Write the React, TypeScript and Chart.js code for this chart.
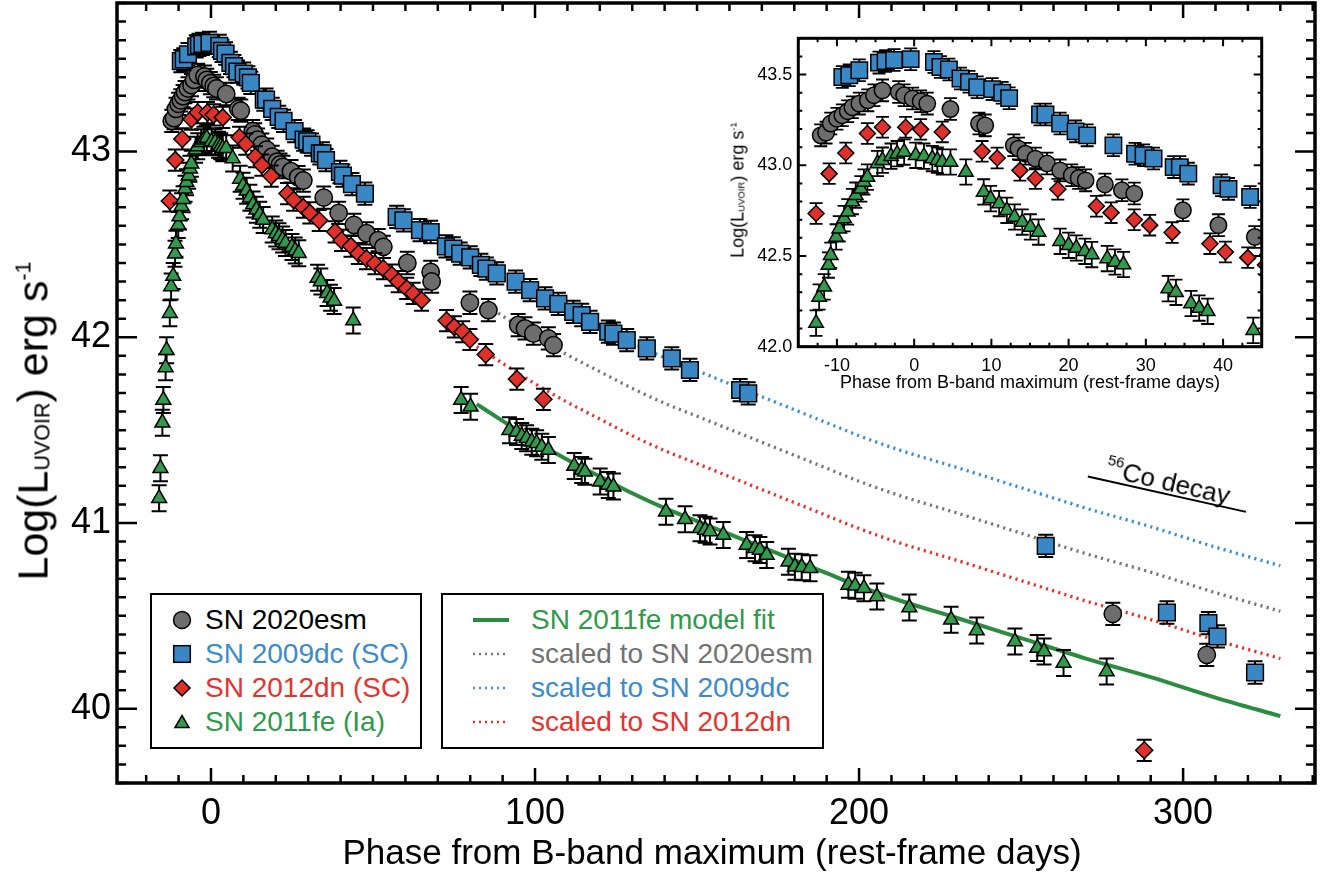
import React, { useEffect, useRef } from 'react';
import { Chart, registerables } from 'chart.js';

Chart.register(...registerables);

const FONT = '"Liberation Sans", Arial, Helvetica, sans-serif';
Chart.defaults.font.family = FONT;

// ---------------- data ----------------
// SN 2020esm
const esmX = [-12.1, -11.4, -10.8, -10.0, -9.3, -8.6, -8.0, -7.1, -6.0, -5.2, -4.1, -2.0, -1.3, -0.2, 0.84, 1.7, 4.7, 8.4, 9.2, 12.9, 13.5, 14.4, 15.7, 17.2, 18.9, 20.4, 21.3, 22.2, 24.7, 26.9, 28.5, 34.8, 39.4, 44.1, 48.0, 51.6, 53.2, 60.6, 67.8, 68.1, 79.9, 85.6, 94.8, 96.9, 99.5, 104.1, 105.7, 278.3, 307.3];
const esmY = [43.165, 43.18, 43.23, 43.257, 43.276, 43.298, 43.32, 43.34, 43.358, 43.386, 43.413, 43.404, 43.386, 43.368, 43.353, 43.34, 43.31, 43.23, 43.22, 43.11, 43.092, 43.064, 43.037, 43.01, 42.972, 42.945, 42.93, 42.917, 42.894, 42.862, 42.844, 42.752, 42.67, 42.605, 42.56, 42.523, 42.487, 42.40, 42.352, 42.30, 42.186, 42.146, 42.066, 42.048, 42.02, 41.994, 41.958, 40.511, 40.29];
const esmErr = 0.06;

// SN 2009dc
const dcX = [-9.3, -8.4, -7.1, -4.55, -3.7, -2.6, -0.45, 2.56, 3.4, 4.5, 6.0, 7.1, 8.16, 10.1, 11.4, 12.3, 16.3, 17.0, 18.9, 20.9, 22.4, 25.8, 28.6, 29.7, 31.0, 33.6, 34.4, 35.5, 39.8, 40.7, 43.5, 47.5, 57.3, 59.4, 64.5, 67.8, 72.5, 74.8, 76.9, 80.0, 83.3, 85.0, 88.2, 94.0, 98.5, 103.1, 107.2, 111.8, 114.4, 117.0, 122.6, 124.2, 128.3, 134.5, 142.2, 147.8, 163.3, 165.8, 257.6, 295.0, 307.8, 310.6, 322.2];
const dcY = [43.487, 43.496, 43.524, 43.566, 43.575, 43.58, 43.585, 43.569, 43.542, 43.528, 43.478, 43.46, 43.43, 43.42, 43.40, 43.37, 43.28, 43.28, 43.23, 43.187, 43.165, 43.11, 43.064, 43.055, 43.037, 42.99, 42.99, 42.954, 42.89, 42.87, 42.825, 42.774, 42.648, 42.63, 42.577, 42.567, 42.49, 42.478, 42.45, 42.43, 42.39, 42.37, 42.344, 42.30, 42.254, 42.21, 42.18, 42.137, 42.12, 42.083, 42.03, 42.02, 41.985, 41.94, 41.886, 41.824, 41.716, 41.698, 40.877, 40.518, 40.461, 40.389, 40.195];
const dcErr = 0.06;

// SN 2012dn
const dnX = [-12.7, -11.0, -8.85, -6.05, -4.1, -1.1, 0.84, 3.64, 8.8, 10.75, 13.7, 15.7, 18.6, 23.6, 25.5, 28.5, 30.5, 33.4, 38.3, 40.3, 43.2, 45.5, 48.0, 50.6, 53.2, 55.8, 57.8, 60.4, 62.4, 65.0, 72.7, 75.1, 77.7, 79.9, 84.8, 94.4, 102.6, 288.0];
const dnY = [42.734, 42.954, 43.068, 43.175, 43.21, 43.21, 43.198, 43.184, 43.077, 43.04, 42.972, 42.927, 42.868, 42.774, 42.739, 42.70, 42.67, 42.629, 42.568, 42.522, 42.491, 42.451, 42.424, 42.397, 42.37, 42.335, 42.30, 42.263, 42.236, 42.20, 42.09, 42.056, 42.03, 41.988, 41.907, 41.775, 41.666, 39.776];
const dnErr = 0.057;

// SN 2011fe
const feX = [-16.0, -15.6, -15.0, -14.7, -14.0, -13.7, -12.7, -12.3, -11.65, -11.1, -10.8, -10.1, -9.7, -9.07, -8.6, -8.0, -7.56, -6.9, -6.5, -6.05, -4.75, -4.1, -3.0, -2.2, -1.3, 0.2, 1.27, 2.35, 3.0, 3.64, 4.7, 6.7, 9.0, 9.9, 11.0, 12.0, 13.0, 14.0, 15.05, 16.1, 18.9, 20.0, 21.0, 22.1, 23.0, 25.0, 26.0, 27.1, 32.9, 33.9, 35.85, 36.9, 38.0, 43.9, 77.2, 80.1, 92.1, 94.3, 95.9, 97.4, 99.0, 100.5, 102.1, 104.1, 112.1, 114.4, 115.4, 120.1, 122.6, 124.2, 140.4, 146.3, 150.9, 152.5, 154.0, 158.1, 165.3, 167.9, 169.4, 171.5, 178.2, 180.2, 182.3, 184.9, 196.7, 198.8, 201.5, 205.5, 215.5, 228.4, 236.3, 248.1, 255.0, 257.1, 263.1, 276.4];
const feY = [41.133, 41.295, 41.54, 41.662, 41.838, 41.93, 42.13, 42.274, 42.33, 42.45, 42.504, 42.605, 42.65, 42.706, 42.743, 42.80, 42.835, 42.87, 42.908, 42.935, 43.01, 43.028, 43.05, 43.064, 43.073, 43.055, 43.05, 43.037, 43.028, 43.018, 43.018, 42.963, 42.853, 42.816, 42.789, 42.752, 42.715, 42.687, 42.66, 42.632, 42.581, 42.559, 42.544, 42.526, 42.508, 42.486, 42.467, 42.453, 42.32, 42.30, 42.238, 42.213, 42.195, 42.09, 41.662, 41.626, 41.50, 41.49, 41.469, 41.456, 41.438, 41.43, 41.41, 41.393, 41.307, 41.286, 41.276, 41.223, 41.205, 41.196, 41.061, 41.02, 40.972, 40.963, 40.954, 40.936, 40.882, 40.864, 40.855, 40.828, 40.792, 40.765, 40.762, 40.757, 40.667, 40.662, 40.649, 40.604, 40.545, 40.479, 40.421, 40.362, 40.327, 40.308, 40.246, 40.20];
const feErr = 0.07;

// model fit and scaled versions
const fitX = [82, 90, 100, 110, 120, 130, 140, 150, 160, 170, 180, 190, 200, 213, 230, 250, 270, 290, 310, 330];
const fitY = [41.64, 41.55, 41.44, 41.34, 41.25, 41.16, 41.08, 41.01, 40.94, 40.87, 40.80, 40.73, 40.66, 40.58, 40.49, 40.38, 40.27, 40.17, 40.06, 39.96];
const fitEsmY = [42.205, 42.115, 42.005, 41.905, 41.815, 41.725, 41.645, 41.575, 41.505, 41.435, 41.365, 41.295, 41.225, 41.145, 41.055, 40.945, 40.835, 40.735, 40.625, 40.525];
const fitDcY = [42.45, 42.36, 42.25, 42.15, 42.06, 41.97, 41.89, 41.82, 41.75, 41.68, 41.61, 41.54, 41.47, 41.39, 41.30, 41.19, 41.08, 40.98, 40.87, 40.77];
const fitDnY = [41.95, 41.86, 41.75, 41.65, 41.56, 41.47, 41.39, 41.32, 41.25, 41.18, 41.11, 41.04, 40.97, 40.89, 40.80, 40.69, 40.58, 40.48, 40.37, 40.27];

// 56Co decay slope guide
const coX = [270.6, 319.4];
const coY = [41.25, 41.06];

// tick labels
const mainXTicks = [0, 100, 200, 300];
const mainYTicks = [40, 41, 42, 43];
const insetXTicks = [-10, 0, 10, 20, 30, 40];
const insetYTicks = [42.0, 42.5, 43.0, 43.5];

// ---------------- styles ----------------
const GRAY = '#6d6d6d';
const BLUE = '#3a87c6';
const RED = '#e1302a';
const GREEN = '#2f9b4b';
const FITGREEN = '#2b8b3f';
const T_BLUE = '#3b8bcb';
const T_RED = '#e8322c';
const T_GREEN = '#2f9a4a';
const T_GRAY = '#727272';

const pts = (xs: number[], ys: number[]) => xs.map((x, i) => ({ x, y: ys[i] }));

const errPlugin = {
  id: 'errbars',
  beforeDatasetDraw(chart: any, args: any, opts: any) {
    const ds = chart.data.datasets[args.index];
    if (!ds.err) return;
    const { ctx, chartArea: a } = chart;
    const ys = chart.scales.y;
    ctx.save();
    ctx.beginPath();
    ctx.rect(a.left, a.top, a.right - a.left, a.bottom - a.top);
    ctx.clip();
    ctx.strokeStyle = '#000';
    ctx.lineWidth = opts.width;
    ctx.beginPath();
    args.meta.data.forEach((pt: any, i: number) => {
      const v = ds.data[i].y;
      const x = pt.x;
      const y1 = ys.getPixelForValue(v + ds.err);
      const y2 = ys.getPixelForValue(v - ds.err);
      ctx.moveTo(x, y1); ctx.lineTo(x, y2);
      ctx.moveTo(x - opts.cap, y1); ctx.lineTo(x + opts.cap, y1);
      ctx.moveTo(x - opts.cap, y2); ctx.lineTo(x + opts.cap, y2);
    });
    ctx.stroke();
    ctx.restore();
  },
};

const framePlugin = {
  id: 'frame',
  afterDraw(chart: any, _args: any, o: any) {
    const { ctx, chartArea: a, scales } = chart;
    const xs = scales.x, ys = scales.y;
    ctx.save();
    ctx.strokeStyle = '#000';
    ctx.lineWidth = o.tickWidth;
    ctx.beginPath();
    const i0 = Math.ceil(xs.min / o.xMinor - 1e-9), i1 = Math.floor(xs.max / o.xMinor + 1e-9);
    for (let i = i0; i <= i1; i++) {
      const v = i * o.xMinor;
      const r = v / o.xMajor;
      const major = Math.abs(r - Math.round(r)) < 1e-6;
      const len = major ? o.xMajorLen : o.xMinorLen;
      const px = xs.getPixelForValue(v);
      ctx.moveTo(px, a.bottom); ctx.lineTo(px, a.bottom - len);
      ctx.moveTo(px, a.top); ctx.lineTo(px, a.top + len);
    }
    const j0 = Math.ceil(ys.min / o.yMinor - 1e-9), j1 = Math.floor(ys.max / o.yMinor + 1e-9);
    for (let j = j0; j <= j1; j++) {
      const v = j * o.yMinor;
      const r = v / o.yMajor;
      const major = Math.abs(r - Math.round(r)) < 1e-6;
      const len = major ? o.yMajorLen : o.yMinorLen;
      const py = ys.getPixelForValue(v);
      ctx.moveTo(a.left, py); ctx.lineTo(a.left + len, py);
      ctx.moveTo(a.right, py); ctx.lineTo(a.right - len, py);
    }
    ctx.stroke();
    ctx.lineWidth = o.frameWidth;
    ctx.strokeRect(a.left, a.top, a.right - a.left, a.bottom - a.top);
    ctx.restore();
  },
};

function markerSets(inset: boolean) {
  const bw = 1.5;
  const common = { showLine: false, clip: 0, pointBorderColor: '#000', pointBorderWidth: bw, pointHoverRadius: 0 };
  return [
    { ...common, label: 'SN 2020esm', data: pts(esmX, esmY), err: esmErr, pointStyle: 'circle', pointRadius: inset ? 8.2 : 8.7, pointBackgroundColor: GRAY, order: 4 },
    { ...common, label: 'SN 2009dc', data: pts(dcX, dcY), err: dcErr, pointStyle: 'rect', pointRadius: inset ? 11.6 : 11.8, pointBackgroundColor: BLUE, order: 3 },
    { ...common, label: 'SN 2012dn', data: pts(dnX, dnY), err: dnErr, pointStyle: 'rectRot', pointRadius: inset ? 8.0 : 8.5, pointBackgroundColor: RED, order: 2 },
    { ...common, label: 'SN 2011fe', data: pts(feX, feY), err: feErr, pointStyle: 'triangle', pointRadius: inset ? 8.4 : 8.6, pointBackgroundColor: GREEN, order: 1 },
  ];
}

function lineSet(xs: number[], ys: number[], color: string, width: number, dash: number[]) {
  return {
    data: pts(xs, ys), showLine: true, pointRadius: 0, pointHoverRadius: 0, borderColor: color, borderWidth: width,
    borderDash: dash, borderCapStyle: 'butt', cubicInterpolationMode: 'monotone', clip: 0, order: 10, fill: false,
  };
}

function scaleCfg(ticks: number[], min: number, max: number, fontSize: number, padding: number, fixed: (s: any) => void, fmt: (v: number) => string) {
  return {
    type: 'linear', min, max,
    grid: { display: false, drawTicks: false },
    border: { display: false },
    afterBuildTicks: (s: any) => { s.ticks = ticks.map((v) => ({ value: v })); },
    afterFit: (s: any) => {
      fixed(s);
      s.paddingTop = 0; s.paddingBottom = 0; s.paddingLeft = 0; s.paddingRight = 0;
    },
    ticks: { color: '#000', padding, autoSkip: false, maxRotation: 0, minRotation: 0, font: { size: fontSize, family: FONT }, callback: (v: any) => fmt(Number(v)) },
  };
}

function mainConfig(): any {
  return {
    type: 'scatter',
    data: {
      datasets: [
        lineSet(fitX, fitY, FITGREEN, 4, []),
        lineSet(fitX, fitEsmY, '#777777', 3.3, [2.2, 4.2]),
        lineSet(fitX, fitDcY, '#3a8fd0', 3.3, [2.2, 4.2]),
        lineSet(fitX, fitDnY, '#e8302a', 3.3, [2.2, 4.2]),
        lineSet(coX, coY, '#000', 2, []),
        ...markerSets(false),
      ],
    },
    options: {
      animation: false, responsive: false, devicePixelRatio: 1,
      layout: { autoPadding: false, padding: { top: 3, right: 10, left: 0, bottom: 0 } },
      plugins: {
        legend: { display: false }, tooltip: { enabled: false },
        errbars: { width: 2, cap: 7.5 },
        frame: { xMinor: 10, xMajor: 100, yMinor: 0.1, yMajor: 1, xMajorLen: 15, xMinorLen: 8, yMajorLen: 20, yMinorLen: 9, tickWidth: 2.5, frameWidth: 3.5 },
      },
      scales: {
        x: scaleCfg(mainXTicks, -29.0, 340.7, 36, 9, (s: any) => { s.height = 92; }, (v) => String(v)),
        y: scaleCfg(mainYTicks, 39.6, 43.8, 36, 6, (s: any) => { s.width = 117; }, (v) => String(v)),
      },
    },
    plugins: [errPlugin, framePlugin],
  };
}

function insetConfig(): any {
  return {
    type: 'scatter',
    data: { datasets: markerSets(true) },
    options: {
      animation: false, responsive: false, devicePixelRatio: 1,
      layout: { autoPadding: false, padding: { top: 18.3, right: 18.3, left: 0, bottom: 0 } },
      plugins: {
        legend: { display: false }, tooltip: { enabled: false },
        errbars: { width: 1.8, cap: 6.5 },
        frame: { xMinor: 2.5, xMajor: 10, yMinor: 0.1, yMajor: 0.5, xMajorLen: 8, xMinorLen: 4, yMajorLen: 8, yMinorLen: 4, tickWidth: 2, frameWidth: 3 },
      },
      scales: {
        x: scaleCfg(insetXTicks, -15, 45, 18, 9, (s: any) => { s.height = 53.3; }, (v) => String(v)),
        y: scaleCfg(insetYTicks, 42.0, 43.7, 18, 6, (s: any) => { s.width = 98.3; }, (v) => v.toFixed(1)),
      },
    },
    plugins: [errPlugin, framePlugin],
  };
}

const legendMarkers = [
  { label: 'SN 2020esm', color: '#000', shape: 'circle', fill: GRAY },
  { label: 'SN 2009dc (SC)', color: T_BLUE, shape: 'square', fill: BLUE },
  { label: 'SN 2012dn (SC)', color: T_RED, shape: 'diamond', fill: RED },
  { label: 'SN 2011fe (Ia)', color: T_GREEN, shape: 'triangle', fill: GREEN },
];
const legendLines = [
  { label: 'SN 2011fe model fit', color: T_GREEN, stroke: FITGREEN, dash: '', width: 4 },
  { label: 'scaled to SN 2020esm', color: T_GRAY, stroke: '#777777', dash: '2 4', width: 2.5 },
  { label: 'scaled to SN 2009dc', color: T_BLUE, stroke: '#3a8fd0', dash: '2 4', width: 2.5 },
  { label: 'scaled to SN 2012dn', color: T_RED, stroke: '#e8302a', dash: '2 4', width: 2.5 },
];
const rowY = [620, 654.3, 688.3, 722.3];

function Marker({ shape, fill }: { shape: string; fill: string }) {
  const p = { fill, stroke: '#000', strokeWidth: 1.5 };
  let el: any;
  if (shape === 'circle') el = <circle cx={11} cy={11} r={8.5} {...p} />;
  else if (shape === 'square') el = <rect x={2.7} y={2.7} width={16.6} height={16.6} {...p} />;
  else if (shape === 'diamond') el = <polygon points="11,3 19,11 11,19 3,11" {...p} />;
  else el = <polygon points="11,4.5 18,16.5 4,16.5" {...p} />;
  return <svg width={22} height={22} style={{ position: 'absolute', left: -11, top: -11, overflow: 'visible' }}>{el}</svg>;
}

const boxStyle: any = { position: 'absolute', border: '2px solid #000', boxSizing: 'border-box', background: '#fff' };
const legText: any = { position: 'absolute', fontSize: 28, lineHeight: '34px', height: 34, whiteSpace: 'nowrap' };

export default function App() {
  const mainRef = useRef<HTMLCanvasElement>(null);
  const insetRef = useRef<HTMLCanvasElement>(null);

  useEffect(() => {
    const main = new Chart(mainRef.current as HTMLCanvasElement, mainConfig());
    const inset = new Chart(insetRef.current as HTMLCanvasElement, insetConfig());
    return () => { main.destroy(); inset.destroy(); };
  }, []);

  return (
    <div style={{ position: 'fixed', left: 0, top: 0, width: 1325, height: 875, background: '#fff', fontFamily: FONT, color: '#000', overflow: 'hidden' }}>
      <canvas ref={mainRef} width={1325} height={875} style={{ position: 'absolute', left: 0, top: 0, width: 1325, height: 875 }} />
      <canvas ref={insetRef} width={580} height={380} style={{ position: 'absolute', left: 700, top: 20, width: 580, height: 380 }} />

      {/* main axis titles */}
      <div style={{ position: 'absolute', left: 712, top: 834, transform: 'translateX(-50%)', fontSize: 35, lineHeight: '35px', whiteSpace: 'nowrap' }}>
        Phase from B-band maximum (rest-frame days)
      </div>
      <div style={{ position: 'absolute', left: 37, top: 421, transform: 'translate(-50%,-50%) rotate(-90deg)', fontSize: 43, lineHeight: '43px', whiteSpace: 'nowrap' }}>
        Log(L<span style={{ fontSize: 21.5, position: 'relative', top: 2 }}>UVOIR</span>) erg s<span style={{ fontSize: 21.5, position: 'relative', top: -17 }}>-1</span>
      </div>

      {/* inset axis titles */}
      <div style={{ position: 'absolute', left: 1030, top: 372.5, transform: 'translateX(-50%)', fontSize: 18, lineHeight: '18px', whiteSpace: 'nowrap' }}>
        Phase from B-band maximum (rest-frame days)
      </div>
      <div style={{ position: 'absolute', left: 739, top: 190, transform: 'translate(-50%,-50%) rotate(-90deg)', fontSize: 18, lineHeight: '18px', whiteSpace: 'nowrap' }}>
        Log(L<span style={{ fontSize: 9.5, position: 'relative', top: 1 }}>UVOIR</span>) erg s<span style={{ fontSize: 9.5, position: 'relative', top: -7 }}>-1</span>
      </div>

      {/* 56Co decay label */}
      <div style={{ position: 'absolute', left: 1121, top: 480, width: 0, height: 0, transform: 'rotate(13deg)', transformOrigin: '0 0' }}>
        <div style={{ position: 'absolute', left: -17, top: -22, fontSize: 26, lineHeight: '26px', whiteSpace: 'nowrap' }}>
          <span style={{ fontSize: 15, position: 'relative', top: -12 }}>56</span>Co decay
        </div>
      </div>

      {/* legend box 1 */}
      <div style={{ ...boxStyle, left: 150, top: 593, width: 272, height: 156 }} />
      {legendMarkers.map((m, i) => (
        <React.Fragment key={m.label}>
          <div style={{ position: 'absolute', left: 182, top: rowY[i], width: 0, height: 0 }}>
            <Marker shape={m.shape} fill={m.fill} />
          </div>
          <div style={{ ...legText, left: 205, top: rowY[i] - 17, color: m.color }}>{m.label}</div>
        </React.Fragment>
      ))}

      {/* legend box 2 */}
      <div style={{ ...boxStyle, left: 441, top: 593, width: 383, height: 156 }} />
      {legendLines.map((l, i) => (
        <React.Fragment key={l.label}>
          <svg width={40} height={10} style={{ position: 'absolute', left: 472, top: rowY[i] - 5 }}>
            <line x1={1} y1={5} x2={37} y2={5} stroke={l.stroke} strokeWidth={l.width} strokeDasharray={l.dash || undefined} />
          </svg>
          <div style={{ ...legText, left: 531, top: rowY[i] - 17, color: l.color }}>{l.label}</div>
        </React.Fragment>
      ))}
    </div>
  );
}
